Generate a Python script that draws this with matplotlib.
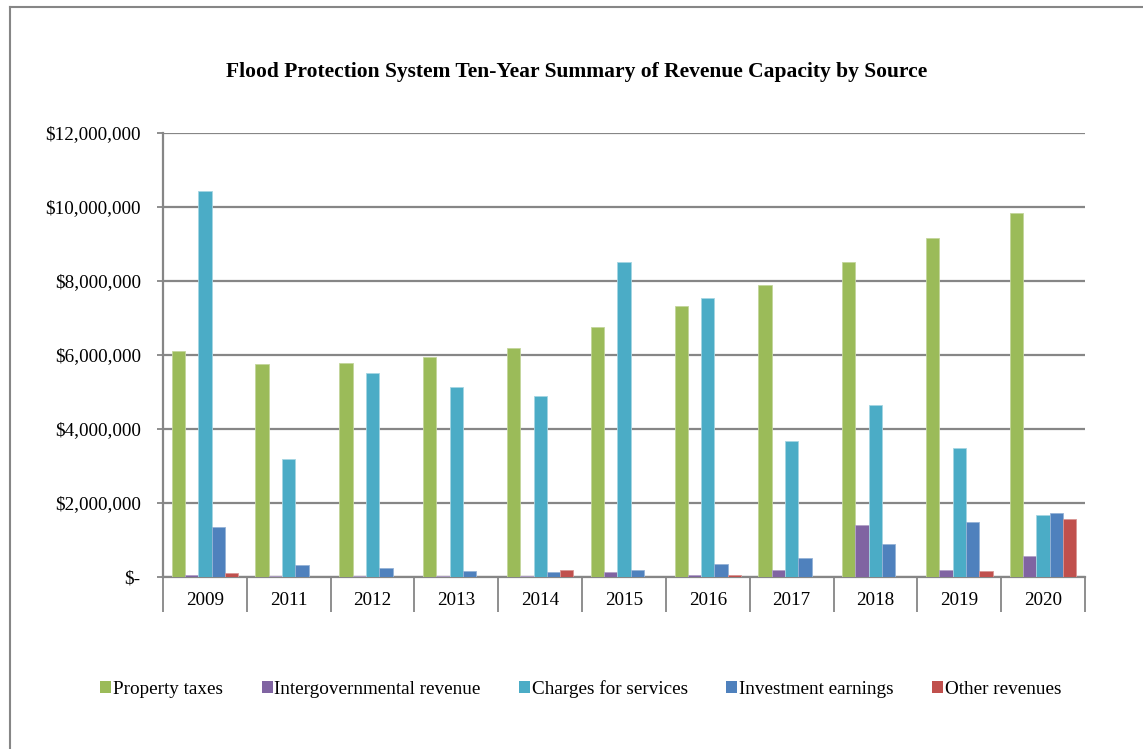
import matplotlib
matplotlib.use("Agg")
import matplotlib.pyplot as plt
import numpy as np
from matplotlib.lines import Line2D
from matplotlib.patches import Patch
from matplotlib.ticker import FuncFormatter

years = ["2009", "2011", "2012", "2013", "2014", "2015", "2016", "2017", "2018", "2019", "2020"]
property_taxes = [6.10e6, 5.75e6, 5.78e6, 5.95e6, 6.20e6, 6.75e6, 7.33e6, 7.90e6, 8.52e6, 9.15e6, 9.83e6]
intergovernmental = [0.05e6, 0.04e6, 0.04e6, 0.04e6, 0.04e6, 0.14e6, 0.06e6, 0.18e6, 1.40e6, 0.19e6, 0.57e6]
charges = [10.42e6, 3.20e6, 5.52e6, 5.13e6, 4.88e6, 8.52e6, 7.55e6, 3.68e6, 4.65e6, 3.50e6, 1.68e6]
investment = [1.34e6, 0.32e6, 0.23e6, 0.16e6, 0.13e6, 0.19e6, 0.34e6, 0.51e6, 0.89e6, 1.48e6, 1.74e6]
other = [0.10e6, 0.0, 0.01e6, 0.0, 0.19e6, 0.0, 0.05e6, 0.0, 0.01e6, 0.17e6, 1.58e6]

series_names = ["Property taxes", "Intergovernmental revenue", "Charges for services",
                "Investment earnings", "Other revenues"]
colors = ["#9BBB59", "#8064A2", "#4BACC6", "#4F81BD", "#C0504D"]
edges = ["#c3d69b", "#b3a2c7", "#a5d5e2", "#95b3d7", "#d99694"]

plt.rcParams['font.family'] = ['Liberation Serif', 'DejaVu Serif']

W, H = 1143, 749
fig = plt.figure(figsize=(W / 100, H / 100), dpi=100)
ax = fig.add_axes([163 / W, 1 - 577 / H, (1085 - 163) / W, (577 - 133) / H])

data = [property_taxes, intergovernmental, charges, investment, other]
x = np.arange(len(years))
bw = 0.159
for i, (vals, c, ec, name) in enumerate(zip(data, colors, edges, series_names)):
    ax.bar(x + (i - 2) * bw, vals, width=bw, color=c, edgecolor=ec, linewidth=0.6,
           label=name, zorder=3)

ax.set_xlim(-0.5, len(years) - 0.5)
ax.set_ylim(0, 12e6)
ax.set_yticks(np.arange(0, 12e6 + 1, 2e6))

def fmt(v, pos):
    if v == 0:
        return "$-"
    return "${:,.0f}".format(v)
ax.yaxis.set_major_formatter(FuncFormatter(fmt))
ax.grid(axis='y', color='#868686', linewidth=1.6, zorder=0)
ax.set_axisbelow(True)

# category boundaries as major ticks, labels as minor
ax.set_xticks(np.arange(-0.5, len(years)), minor=False)
ax.set_xticklabels([])
ax.set_xticks(x, minor=True)
ax.set_xticklabels(years, minor=True)
ax.tick_params(axis='x', which='major', direction='out', length=25.5, width=1.3, color='#868686')
ax.tick_params(axis='x', which='minor', length=0, pad=11, labelsize=13.8)
ax.tick_params(axis='y', direction='out', length=4, width=1.3, color='#868686', labelsize=13.8, pad=12)

for s in ['top', 'right']:
    ax.spines[s].set_visible(False)
for s in ['left', 'bottom']:
    ax.spines[s].set_color('#868686')
    ax.spines[s].set_linewidth(1.6)

fig.text(576.5 / W, 1 - 72 / H, "Flood Protection System Ten-Year Summary of Revenue Capacity by Source",
         ha='center', va='center', fontsize=15.5, fontweight='bold')

handles = [Patch(facecolor=c, edgecolor='none') for c in colors]
fig.legend(handles, series_names, loc='center', bbox_to_anchor=(581 / W, 1 - 689 / H),
           ncol=5, frameon=False, fontsize=13.8, handlelength=0.57, handleheight=0.57,
           handletextpad=0.1, columnspacing=2.0)

# outer chart border
fig.add_artist(Line2D([10 / W, 1.0], [1 - 7 / H, 1 - 7 / H], color='#868686', linewidth=1.5,
                      transform=fig.transFigure))
fig.add_artist(Line2D([10 / W, 10 / W], [1 - 7 / H, 0.0], color='#868686', linewidth=1.5,
                      transform=fig.transFigure))

fig.savefig("out.png", dpi=100)
